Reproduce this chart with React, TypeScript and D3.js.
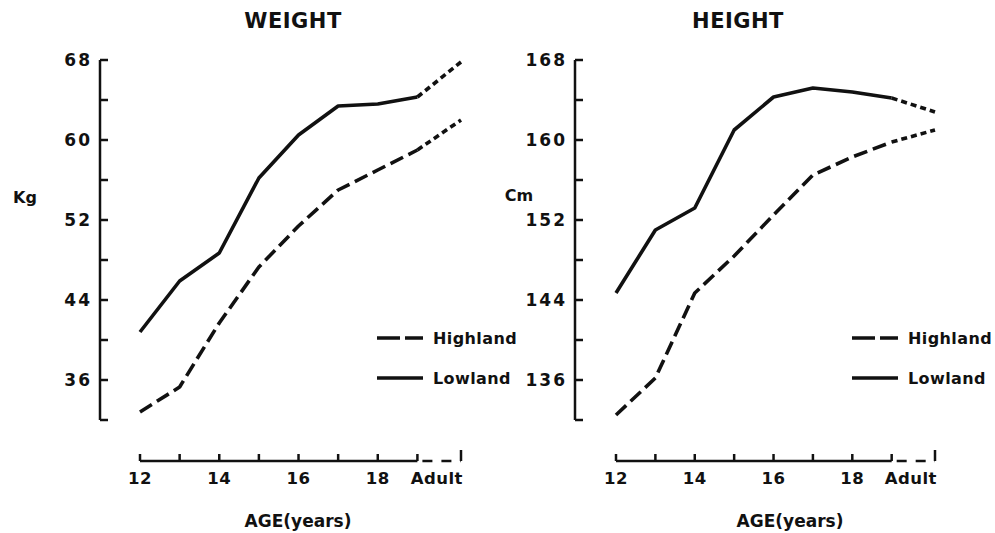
import React, { useEffect, useRef } from "react";
import * as d3 from "d3";

// age categories; "Adult" sits a little past 19 on the axis
const AGE_LABELS = ["12", "13", "14", "15", "16", "17", "18", "19", "Adult"];
const AGE_VALUES = [12, 13, 14, 15, 16, 17, 18, 19, 20.1];
const AGE_TICK_LABELS = ["12", "14", "16", "18", "Adult"];

const weightHighland = [32.8, 35.3, 41.7, 47.3, 51.4, 55.0, 57.0, 59.0, 62.0];
const weightLowland = [40.8, 45.9, 48.7, 56.2, 60.5, 63.4, 63.6, 64.3, 67.8];
const heightHighland = [132.5, 136.2, 144.7, 148.4, 152.5, 156.5, 158.3, 159.8, 161.0];
const heightLowland = [144.7, 151.0, 153.2, 161.0, 164.3, 165.2, 164.8, 164.2, 162.8];

const weightTicks = [68, 60, 52, 44, 36];
const heightTicks = [168, 160, 152, 144, 136];

const FONT = "'DejaVu Sans', sans-serif";
const INK = "#111";

type PanelCfg = {
  title: string;
  titleX: number;
  unit: string;
  unitX: number;
  unitY: number;
  axisX: number;
  xStart: number;
  xEnd: number;
  yDomain: [number, number];
  labelTicks: number[];
  highland: number[];
  lowland: number[];
  ageLabelX: number;
};

const panels: PanelCfg[] = [
  {
    title: "WEIGHT", titleX: 293, unit: "Kg", unitX: 25, unitY: 197,
    axisX: 100, xStart: 140, xEnd: 461, yDomain: [32, 68],
    labelTicks: weightTicks, highland: weightHighland, lowland: weightLowland,
    ageLabelX: 298,
  },
  {
    title: "HEIGHT", titleX: 738, unit: "Cm", unitX: 519, unitY: 195,
    axisX: 575, xStart: 616, xEnd: 935, yDomain: [132, 168],
    labelTicks: heightTicks, highland: heightHighland, lowland: heightLowland,
    ageLabelX: 790,
  },
];

function drawPanel(svg: d3.Selection<SVGSVGElement, unknown, null, undefined>, p: PanelCfg) {
  const g = svg.append("g");
  const x = d3.scaleLinear().domain([12, AGE_VALUES[AGE_VALUES.length - 1]]).range([p.xStart, p.xEnd]);
  const y = d3.scaleLinear().domain(p.yDomain).range([420, 60]);
  const xAxisY = 461;

  // title
  g.append("text")
    .attr("x", p.titleX).attr("y", 28)
    .attr("text-anchor", "middle")
    .style("font-family", FONT).style("font-size", "21px").style("font-weight", "bold")
    .style("letter-spacing", "0.5px")
    .attr("fill", INK).text(p.title);

  // unit
  g.append("text")
    .attr("x", p.unitX).attr("y", p.unitY + 6)
    .attr("text-anchor", "middle")
    .style("font-family", FONT).style("font-size", "16px").style("font-weight", "bold")
    .attr("fill", INK).text(p.unit);

  // --- Y AXIS ---
  g.append("line")
    .attr("x1", p.axisX).attr("x2", p.axisX)
    .attr("y1", y(p.yDomain[1])).attr("y2", y(p.yDomain[0]))
    .attr("stroke", INK).attr("stroke-width", 2.5);

  g.selectAll(".ytick")
    .data(d3.range(p.yDomain[0], p.yDomain[1] + 1, 4))
    .join("line")
    .attr("x1", p.axisX).attr("x2", p.axisX + 8)
    .attr("y1", (d) => y(d)).attr("y2", (d) => y(d))
    .attr("stroke", INK).attr("stroke-width", 2.5);

  g.selectAll(".ylabel")
    .data(p.labelTicks)
    .join("text")
    .attr("x", p.axisX - 8).attr("y", (d) => y(d) + 6)
    .attr("text-anchor", "end")
    .style("font-family", FONT).style("font-size", "17px").style("font-weight", "bold")
    .style("letter-spacing", "2px")
    .attr("fill", INK).text((d) => d);

  // --- X AXIS ---
  const x19 = x(19);
  const xAd = x(AGE_VALUES[AGE_VALUES.length - 1]);
  g.append("line")
    .attr("x1", x(12)).attr("x2", x19)
    .attr("y1", xAxisY).attr("y2", xAxisY)
    .attr("stroke", INK).attr("stroke-width", 2.5);
  g.append("line")
    .attr("x1", x19 + 5).attr("x2", xAd)
    .attr("y1", xAxisY).attr("y2", xAxisY)
    .attr("stroke", INK).attr("stroke-width", 2.5)
    .attr("stroke-dasharray", "10,9");

  g.selectAll(".xtick")
    .data(AGE_VALUES)
    .join("line")
    .attr("x1", (d) => x(d)).attr("x2", (d) => x(d))
    .attr("y1", xAxisY).attr("y2", (d, i) => (i === AGE_VALUES.length - 1 ? xAxisY - 11 : xAxisY - 7))
    .attr("stroke", INK).attr("stroke-width", 2.5);

  g.selectAll(".xlabel")
    .data(AGE_TICK_LABELS)
    .join("text")
    .attr("x", (d) => (d === "Adult" ? xAd + 2 : x(+d)))
    .attr("y", 484)
    .attr("text-anchor", (d) => (d === "Adult" ? "end" : "middle"))
    .style("font-family", FONT).style("font-size", "16.5px").style("font-weight", "bold")
    .style("letter-spacing", "0.5px")
    .attr("fill", INK).text((d) => d);

  g.append("text")
    .attr("x", p.ageLabelX).attr("y", 527)
    .attr("text-anchor", "middle")
    .style("font-family", FONT).style("font-size", "17px").style("font-weight", "bold")
    .attr("fill", INK).text("AGE(years)");

  // --- SERIES ---
  const line = d3.line<number>()
    .x((_, i) => x(AGE_VALUES[i]))
    .y((d) => y(d));
  const last = AGE_VALUES.length - 1;

  const series = [
    { values: p.highland, dash: "14,6" },
    { values: p.lowland, dash: null },
  ];
  series.forEach((s) => {
    // years 12..19
    g.append("path")
      .attr("d", line(s.values.slice(0, last)))
      .attr("fill", "none").attr("stroke", INK).attr("stroke-width", 3.6)
      .attr("stroke-linejoin", "round")
      .attr("stroke-dasharray", s.dash);
    // 19 -> adult, short dashes
    const seg = d3.line<number>()
      .x((_, i) => x(AGE_VALUES[last - 1 + i]))
      .y((d) => y(d));
    g.append("path")
      .attr("d", seg(s.values.slice(last - 1)))
      .attr("fill", "none").attr("stroke", INK).attr("stroke-width", 3.6)
      .attr("stroke-dasharray", "6,4");
  });

  // --- LEGEND ---
  const lx = p.axisX + 277;
  const legend = [
    { label: "Highland", dash: "23,5", y: 338 },
    { label: "Lowland", dash: null, y: 378 },
  ];
  legend.forEach((l) => {
    g.append("line")
      .attr("x1", lx).attr("x2", lx + 46)
      .attr("y1", l.y).attr("y2", l.y)
      .attr("stroke", INK).attr("stroke-width", 3.6)
      .attr("stroke-dasharray", l.dash);
    g.append("text")
      .attr("x", lx + 56).attr("y", l.y + 6)
      .style("font-family", FONT).style("font-size", "16px").style("font-weight", "bold")
      .style("letter-spacing", "0.4px")
      .attr("fill", INK).text(l.label);
  });
}

export default function App() {
  const svgRef = useRef<SVGSVGElement>(null);

  useEffect(() => {
    const svg = d3.select(svgRef.current as SVGSVGElement);
    svg.selectAll("*").remove();
    panels.forEach((p) => drawPanel(svg, p));
  }, []);

  return (
    <svg
      ref={svgRef}
      width={995}
      height={533}
      style={{ position: "absolute", left: 0, top: 0, background: "#fff" }}
    />
  );
}
